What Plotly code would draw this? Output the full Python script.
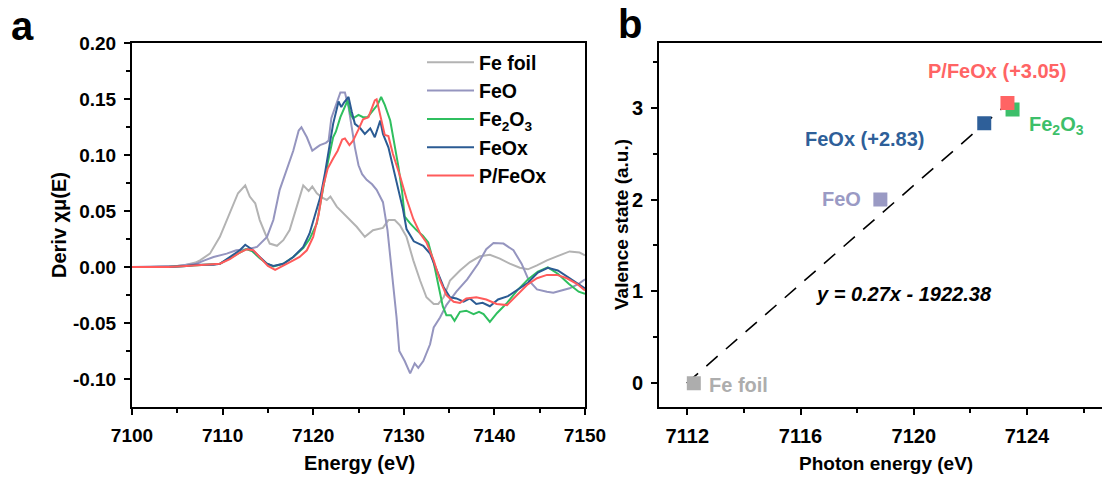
import numpy as np
import plotly.graph_objects as go

W, H = 1102, 477

# ---------------- panel a: derivative XANES spectra ----------------
fe_foil_e = [7100, 7102, 7104, 7105, 7106, 7107, 7107.5, 7108.6, 7109.7, 7110.45, 7111.2, 7111.7,
             7112.5, 7113.0, 7113.6, 7114.1, 7114.7, 7115.2, 7116.0, 7116.7, 7117.4, 7118.2, 7118.9,
             7119.5, 7119.9, 7120.4, 7121.0, 7121.5, 7121.9, 7122.6, 7123.7, 7124.8, 7125.7, 7126.6,
             7127.7, 7128.3, 7129.0, 7129.6, 7130.3, 7131.05, 7131.8, 7132.5, 7133.3, 7133.8, 7134.4,
             7135.1, 7136.2, 7137.3, 7138.4, 7139.5, 7140.6, 7141.7, 7142.8, 7143.7, 7144.7, 7145.8,
             7146.9, 7148.3, 7149.4, 7150]
fe_foil_d = [0, 0, 0.001, 0.001, 0.002, 0.004, 0.006, 0.012, 0.027, 0.042, 0.057, 0.066,
             0.073, 0.063, 0.057, 0.042, 0.030, 0.021, 0.019, 0.024, 0.033, 0.054, 0.073,
             0.068, 0.072, 0.066, 0.062, 0.060, 0.063, 0.054, 0.045, 0.036, 0.027, 0.033,
             0.035, 0.042, 0.042, 0.037, 0.027, 0.006, -0.012, -0.027, -0.033, -0.033, -0.027,
             -0.012, -0.003, 0.0045, 0.0096, 0.011, 0.0075, 0.003, -0.0006, -0.002, 0.0015, 0.006,
             0.0096, 0.014, 0.013, 0.0105]

feo_e = [7100, 7103, 7105, 7106, 7107.1, 7108, 7109.0, 7110.45, 7111.5, 7112.7, 7113.8, 7114.9,
         7115.6, 7116.3, 7117.1, 7117.8, 7118.4, 7118.7, 7119.3, 7119.9, 7120.4, 7120.75, 7121.4,
         7121.7, 7122.0, 7122.6, 7123.0, 7123.5, 7123.9, 7124.25, 7124.6, 7125.0, 7125.4, 7125.9,
         7126.5, 7127.0, 7127.7, 7128.2, 7128.55, 7128.9, 7129.2, 7129.5, 7130.1, 7130.7, 7131.2,
         7131.6, 7132.15, 7132.9, 7133.3, 7134.0, 7134.7, 7135.8, 7137.0, 7138.2, 7139.1, 7139.9,
         7141.0, 7142.1, 7143.0, 7143.8, 7144.7, 7145.8, 7146.5, 7147.4, 7148.3, 7149.3, 7150]
feo_d = [0, 0.0005, 0.001, 0.002, 0.003, 0.006, 0.009, 0.012, 0.015, 0.016, 0.018, 0.027,
         0.042, 0.069, 0.087, 0.104, 0.122, 0.125, 0.116, 0.104, 0.107, 0.109, 0.111,
         0.113, 0.133, 0.148, 0.156, 0.156, 0.143, 0.125, 0.107, 0.091, 0.083, 0.078,
         0.074, 0.069, 0.058, 0.033, 0.006, -0.021, -0.045, -0.075, -0.084, -0.095, -0.086,
         -0.090, -0.084, -0.069, -0.054, -0.045, -0.034, -0.022, -0.011, 0.003, 0.016, 0.0215,
         0.021, 0.015, 0.003, -0.012, -0.020, -0.022, -0.023, -0.021, -0.019, -0.015, -0.011]

fe2o3_e = [7100, 7104, 7106, 7108, 7109.7, 7110.8, 7111.9, 7112.6, 7113.3, 7114.1, 7114.9, 7115.6,
           7116.7, 7117.8, 7118.9, 7119.6, 7120.4, 7121.1, 7121.6, 7122.2, 7122.5, 7123.0, 7123.5,
           7123.8, 7124.1, 7124.4, 7125.0, 7125.5, 7126.0, 7126.6, 7127.1, 7127.5, 7127.9, 7128.5,
           7129.0, 7129.4, 7129.8, 7130.1, 7130.7, 7131.4, 7132.1, 7132.7, 7133.3, 7133.8, 7134.3,
           7134.7, 7135.2, 7135.6, 7136.2, 7136.9, 7137.7, 7138.3, 7138.8, 7139.5, 7140.3, 7141.4,
           7142.5, 7143.7, 7144.8, 7145.9, 7147.0, 7148.2, 7149.3, 7150]
fe2o3_d = [0, 0, 0.001, 0.002, 0.003, 0.008, 0.013, 0.016, 0.014, 0.008, 0.003, 0.0005,
           0.003, 0.009, 0.017, 0.025, 0.039, 0.072, 0.093, 0.116, 0.121, 0.134, 0.144,
           0.149, 0.137, 0.133, 0.136, 0.134, 0.134, 0.140, 0.145, 0.152, 0.145, 0.131,
           0.109, 0.090, 0.068, 0.045, 0.039, 0.033, 0.028, 0.022, 0.004, -0.016, -0.035,
           -0.043, -0.043, -0.048, -0.040, -0.039, -0.042, -0.040, -0.042, -0.049, -0.041, -0.032,
           -0.021, -0.011, -0.004, -0.0003, -0.006, -0.015, -0.022, -0.024]

feox_e = [7100, 7104, 7106, 7107, 7108, 7109, 7109.7, 7110.8, 7111.9, 7112.5, 7113.2, 7114.1,
          7114.9, 7115.6, 7116.7, 7117.8, 7118.9, 7119.6, 7120.3, 7120.8, 7121.3, 7121.8, 7122.2,
          7122.8, 7123.1, 7123.4, 7123.9, 7124.25, 7124.6, 7125.2, 7125.7, 7126.3, 7126.8, 7127.4,
          7127.7, 7128.3, 7128.8, 7129.4, 7129.9, 7130.3, 7131.1, 7132.15, 7132.9, 7133.6, 7134.4,
          7135.1, 7135.8, 7136.6, 7137.3, 7138.0, 7138.7, 7139.5, 7140.4, 7141.5, 7142.6, 7143.7,
          7144.8, 7145.9, 7147.0, 7148.1, 7149.2, 7150]
feox_d = [0, 0, 0.001, 0.002, 0.002, 0.002, 0.003, 0.009, 0.015, 0.020, 0.016, 0.009,
          0.003, 0.001, 0.003, 0.009, 0.018, 0.030, 0.048, 0.063, 0.084, 0.110, 0.128,
          0.148, 0.143, 0.147, 0.152, 0.139, 0.128, 0.124, 0.119, 0.124, 0.116, 0.131,
          0.119, 0.107, 0.089, 0.069, 0.052, 0.034, 0.023, 0.019, 0.012, -0.002, -0.018,
          -0.027, -0.028, -0.031, -0.028, -0.033, -0.032, -0.035, -0.029, -0.026, -0.020, -0.014,
          -0.005, -0.0006, -0.003, -0.009, -0.015, -0.019]

pfeox_e = [7100, 7104, 7106, 7108, 7109.7, 7110.8, 7111.9, 7112.7, 7113.4, 7114.2, 7115.0, 7115.8,
           7116.7, 7117.8, 7118.5, 7119.3, 7120.0, 7120.6, 7121.1, 7121.6, 7122.2, 7122.7, 7123.2,
           7123.5, 7124.0, 7124.4, 7125.0, 7125.5, 7126.1, 7126.4, 7126.8, 7127.0, 7127.4, 7127.9,
           7128.3, 7128.8, 7129.6, 7130.3, 7131.05, 7131.8, 7132.5, 7133.3, 7134.0, 7134.7, 7135.5,
           7136.2, 7136.9, 7138.0, 7139.1, 7140.25, 7141.4, 7142.5, 7143.6, 7144.7, 7145.8, 7146.9,
           7148.0, 7149.1, 7150]
pfeox_d = [0, 0, 0.001, 0.002, 0.003, 0.007, 0.013, 0.016, 0.015, 0.008, 0.001, -0.0025,
           0.001, 0.006, 0.009, 0.015, 0.027, 0.047, 0.072, 0.088, 0.097, 0.104, 0.114,
           0.115, 0.109, 0.113, 0.123, 0.132, 0.134, 0.140, 0.149, 0.150, 0.136, 0.118,
           0.117, 0.101, 0.081, 0.061, 0.043, 0.030, 0.022, 0.006, -0.012, -0.025, -0.031,
           -0.032, -0.028, -0.027, -0.029, -0.033, -0.034, -0.025, -0.016, -0.010, -0.007, -0.007,
           -0.010, -0.015, -0.021]

spectra = [
    ("Fe foil", fe_foil_e, fe_foil_d, "#b3b3b3"),
    ("FeO", feo_e, feo_d, "#9595bf"),
    ("Fe<sub>2</sub>O<sub>3</sub>", fe2o3_e, fe2o3_d, "#2fbf5f"),
    ("FeOx", feox_e, feox_d, "#2b5b93"),
    ("P/FeOx", pfeox_e, pfeox_d, "#ff5b5b"),
]

deriv_ticks = [-0.10, -0.05, 0.00, 0.05, 0.10, 0.15, 0.20]
deriv_ticktext = ["-0.10", "-0.05", "0.00", "0.05", "0.10", "0.15", "0.20"]

# ---------------- panel b: edge energy vs valence ----------------
sample_names = ["Fe foil", "FeO", "FeOx", "Fe2O3", "P/FeOx"]
edge_energy = [7112.23, 7118.82, 7122.49, 7123.49, 7123.31]
valence = [0.0, 2.0, 2.83, 2.98, 3.05]
sample_colors = ["#adadad", "#9a9ac4", "#2e5f99", "#3dbf6a", "#ff6464"]
sample_labels = ["Fe foil", "FeO", "FeOx (+2.83)", "Fe<sub>2</sub>O<sub>3</sub>", "P/FeOx (+3.05)"]
fit_label = "y = 0.27x - 1922.38"

FONT = "Liberation Sans, Arial, sans-serif"


def px_x(p):
    return p / W


def px_y(p):
    return 1 - p / H


fig = go.Figure()

for name, e, d, col in spectra:
    fig.add_trace(go.Scatter(x=e, y=d, mode="lines", name=name,
                             line=dict(color=col, width=2),
                             xaxis="x", yaxis="y"))

# linear fit of edge energy vs valence
ex = np.array(edge_energy)
vy = np.array(valence)
slope, intercept = np.polyfit(ex, vy, 1)
fit_x = np.linspace(ex.min() - 0.25, ex.max(), 50)
fig.add_trace(go.Scatter(x=fit_x, y=slope * fit_x + intercept, mode="lines",
                         line=dict(color="black", width=1.6, dash="15px,11px"),
                         showlegend=False, xaxis="x2", yaxis="y2"))

fig.add_trace(go.Scatter(x=edge_energy, y=valence, mode="markers", text=sample_names,
                         marker=dict(symbol="square", size=14, color=sample_colors,
                                     line=dict(width=0)),
                         showlegend=False, xaxis="x2", yaxis="y2"))

axis_common = dict(showline=True, linewidth=2, linecolor="black", ticks="outside",
                   ticklen=6, tickwidth=2, tickcolor="black", showgrid=False,
                   zeroline=False, automargin=False)

left_dom = [px_x(132), px_x(585)]
right_dom = [px_x(659), 1.0]
ydom = [px_y(406.7), px_y(43.3)]

fig.update_layout(
    width=W, height=H,
    margin=dict(l=0, r=0, t=0, b=0),
    paper_bgcolor="white", plot_bgcolor="white",
    font=dict(family=FONT, color="black"),
    xaxis=dict(domain=left_dom, range=[7100, 7150], dtick=10, mirror=True,
               minor=dict(dtick=5, ticks="outside", ticklen=4, tickwidth=2, tickcolor="black"),
               tickfont=dict(size=19, weight="bold", family=FONT), ticklabelstandoff=4,
               anchor="y", **axis_common),
    yaxis=dict(domain=ydom, range=[-0.1248, 0.2], tickvals=deriv_ticks,
               ticktext=deriv_ticktext, mirror=True,
               minor=dict(dtick=0.025, ticks="outside", ticklen=4, tickwidth=2, tickcolor="black"),
               tickfont=dict(size=19, weight="bold", family=FONT), ticklabelstandoff=4,
               anchor="x", **axis_common),
    xaxis2=dict(domain=right_dom, range=[7111.0, 7126.65], dtick=4, tick0=7112, mirror=True,
                minor=dict(dtick=2, tick0=7112, ticks="outside", ticklen=4, tickwidth=2,
                           tickcolor="black"),
                tickfont=dict(size=20, weight="bold", family=FONT), ticklabelstandoff=4,
                anchor="y2", **axis_common),
    yaxis2=dict(domain=ydom, range=[-0.255, 3.70], dtick=1, mirror=False,
                minor=dict(dtick=0.5, ticks="outside", ticklen=4, tickwidth=2, tickcolor="black"),
                tickfont=dict(size=20, weight="bold", family=FONT), ticklabelstandoff=4,
                anchor="x2", **axis_common),
    legend=dict(x=px_x(422), y=px_y(43), xanchor="left", yanchor="top",
                bgcolor="rgba(0,0,0,0)", font=dict(size=19.5, weight="bold", family=FONT),
                tracegroupgap=0, itemwidth=47),
)

annotations = [
    dict(text="<b>a</b>", x=px_x(22), y=px_y(26), font=dict(size=40)),
    dict(text="<b>b</b>", x=px_x(630), y=px_y(24), font=dict(size=40)),
    dict(text="<b>Energy (eV)</b>", x=px_x(359), y=px_y(463), font=dict(size=20)),
    dict(text="<b>Photon energy (eV)</b>", x=px_x(886), y=px_y(463), font=dict(size=19)),
    dict(text="<b>Deriv χμ(E)</b>", x=px_x(59), y=px_y(225), font=dict(size=20), textangle=-90),
    dict(text="<b>Valence state (a.u.)</b>", x=px_x(621), y=px_y(225), font=dict(size=19),
         textangle=-90),
]
for a in annotations:
    a.update(xref="paper", yref="paper", showarrow=False, xanchor="center", yanchor="middle")
    a["font"].update(family=FONT, color="black")
    fig.add_annotation(**a)

# sample labels beside the points (pixel offsets from each marker)
label_offsets = {
    "Fe foil": dict(xanchor="left", xshift=13, yshift=-2),
    "FeO": dict(xanchor="right", xshift=-17, yshift=1),
    "FeOx": dict(xanchor="center", xshift=-119, yshift=-16),
    "Fe2O3": dict(xanchor="left", xshift=14, yshift=-16),
    "P/FeOx": dict(xanchor="center", xshift=-10, yshift=32),
}
for name, e, v, col, lab in zip(sample_names, edge_energy, valence, sample_colors, sample_labels):
    off = label_offsets[name]
    fig.add_annotation(x=e, y=v, xref="x2", yref="y2", text=f"<b>{lab}</b>", showarrow=False,
                       yanchor="middle", font=dict(family=FONT, size=20, color=col), **off)

fig.add_annotation(x=7119.64, y=0.975, xref="x2", yref="y2",
                   text=f"<b><i>{fit_label}</i></b>", showarrow=False,
                   font=dict(family=FONT, size=20, color="black"))

fig.write_html("out.html")
